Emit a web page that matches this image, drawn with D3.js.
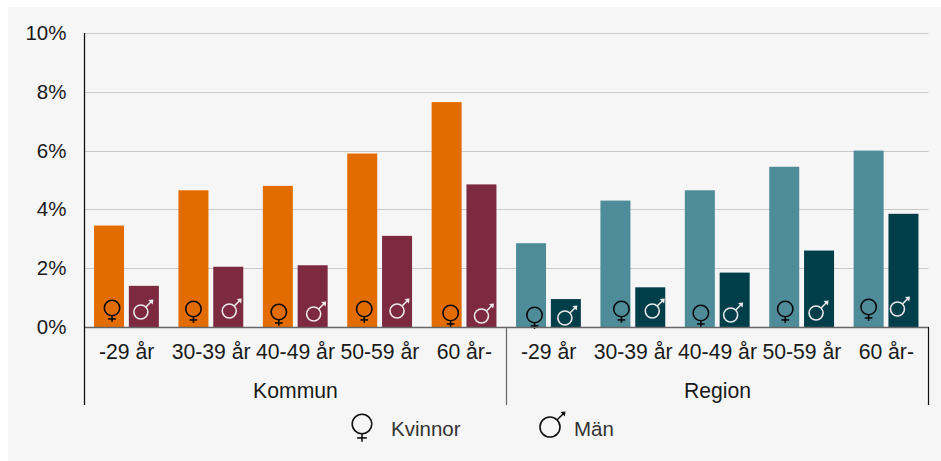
<!DOCTYPE html>
<html>
<head>
<meta charset="utf-8">
<script src="https://cdn.jsdelivr.net/npm/d3@7"></script>
<style>
  html, body { margin: 0; padding: 0; background: #fff; }
  svg { display: block; }
  text { font-family: "Liberation Sans", Arial, sans-serif; fill: #1a1a1a; }
</style>
</head>
<body>
<div id="chart"></div>
<script>
//chart values
const sectors = ['Kommun', 'Region'];
const ageGroups = ['-29 år', '30-39 år', '40-49 år', '50-59 år', '60 år-'];
const kvinnor = [3.45, 4.65, 4.8, 5.9, 7.65, 2.85, 4.3, 4.65, 5.45, 6.0];
const man = [1.4, 2.05, 2.1, 3.1, 4.85, 0.95, 1.35, 1.85, 2.6, 3.85];
const yTicks = [0, 2, 4, 6, 8, 10];

//gender symbols were placed by hand in the original, so each one has its own nudge
const kvinnorSymbolLift = [19, 18, 15, 18, 14, 12, 18, 14, 18, 20];
const manSymbolLift = [15, 16, 13, 16, 11, 9, 16, 12, 14, 18];
const kvinnorSymbolShift = [3, 0, 1, 2, 4, 3.5, 6, 1, 1, 0];
const manSymbolShift = [-3, 1, 1, 0, 0, -1, 2, -4, -3, -6];

const width = 941, height = 461;
const margin = { top: 33, left: 84.5, right: 12.5, bottom: 134 };
const plotBottom = height - margin.bottom;
const plotRight = width - margin.right;
const labelSize = '20.5px';
const categorySize = '21.2px';

const svg = d3.select('#chart').append('svg')
  .attr('width', width)
  .attr('height', height);

//grey panel behind the chart
svg.append('rect')
  .attr('x', 8).attr('y', 7)
  .attr('width', width - 8).attr('height', height - 7)
  .attr('fill', '#f6f6f6');

//scales
const groupIndex = d3.range(kvinnor.length);
const x = d3.scaleBand().domain(groupIndex).range([margin.left, plotRight]);
const barScale = d3.scaleBand()
  .domain(['kvinnor', 'man'])
  .range([x.bandwidth() * 0.113, x.bandwidth() * 0.881])
  .paddingInner(0.138);
const y = d3.scaleLinear().domain([0, 10]).range([plotBottom, margin.top]);

//gridlines and y axis
const yAxis = svg.append('g')
  .attr('transform', `translate(${margin.left},0)`)
  .call(d3.axisLeft(y).tickValues(yTicks).tickFormat(d => d + '%').tickSize(0).tickPadding(18));
yAxis.select('.domain').remove();
yAxis.selectAll('text').style('font-size', labelSize);

svg.append('g').selectAll('line')
  .data(yTicks.slice(1))
  .join('line')
  .attr('x1', margin.left).attr('x2', plotRight)
  .attr('y1', d => Math.round(y(d)) + 0.5).attr('y2', d => Math.round(y(d)) + 0.5)
  .attr('stroke', '#c9c9c9');

//bars, the colors change between the two sectors
const kvinnorColor = i => i < ageGroups.length ? '#e36c00' : '#4e8c99';
const manColor = i => i < ageGroups.length ? '#7d2a41' : '#003e4a';

svg.append('g').selectAll('rect')
  .data(kvinnor)
  .join('rect')
  .attr('x', (d, i) => x(i) + barScale('kvinnor'))
  .attr('y', d => y(d))
  .attr('width', barScale.bandwidth())
  .attr('height', d => plotBottom - y(d))
  .attr('fill', (d, i) => kvinnorColor(i));

svg.append('g').selectAll('rect')
  .data(man)
  .join('rect')
  .attr('x', (d, i) => x(i) + barScale('man'))
  .attr('y', d => y(d))
  .attr('width', barScale.bandwidth())
  .attr('height', d => plotBottom - y(d))
  .attr('fill', (d, i) => manColor(i));

//gender symbols
function drawFemale(parent, cx, cy, r, color) {
  const g = parent.append('g')
    .attr('transform', `translate(${cx},${cy})`)
    .attr('fill', 'none').attr('stroke', color).attr('stroke-width', 1.6);
  g.append('circle').attr('r', r);
  g.append('line').attr('y1', r).attr('y2', r * 1.8);
  g.append('line').attr('x1', -r * 0.5).attr('x2', r * 0.5).attr('y1', r * 1.42).attr('y2', r * 1.42);
}

function drawMale(parent, cx, cy, r, color) {
  const g = parent.append('g')
    .attr('transform', `translate(${cx},${cy})`)
    .attr('fill', 'none').attr('stroke', color).attr('stroke-width', 1.6);
  g.append('circle').attr('r', r);
  const start = r * 0.72, tip = 5.5 + r;
  const head = 5;
  g.append('line').attr('x1', start).attr('y1', -start).attr('x2', tip - 1).attr('y2', -tip + 1);
  g.append('path')
    .attr('d', d3.line()([[tip, -tip], [tip - head, -tip + 0.6], [tip - 0.6, -tip + head]]))
    .attr('fill', color).attr('stroke', 'none');
}

const symbols = svg.append('g');
kvinnor.forEach((d, i) => {
  const cx = x(i) + barScale('kvinnor') + barScale.bandwidth() / 2 + kvinnorSymbolShift[i];
  drawFemale(symbols, cx, plotBottom - kvinnorSymbolLift[i], 7.7, '#0a0a0a');
});
man.forEach((d, i) => {
  const cx = x(i) + barScale('man') + barScale.bandwidth() / 2 + manSymbolShift[i];
  drawMale(symbols, cx, plotBottom - manSymbolLift[i], 7, '#ece9ea');
});

//baseline and the age labels
const xAxis = svg.append('g')
  .attr('transform', `translate(0,${plotBottom})`)
  .call(d3.axisBottom(x)
    .tickFormat(i => ageGroups[i % ageGroups.length])
    .tickSize(0).tickPadding(17));
xAxis.select('.domain').attr('stroke', '#666').attr('stroke-width', 1.5);
xAxis.selectAll('text').style('font-size', categorySize);

//left axis line
svg.append('line')
  .attr('x1', margin.left).attr('x2', margin.left)
  .attr('y1', margin.top).attr('y2', 405)
  .attr('stroke', '#111').attr('stroke-width', 1.3);

//separators of the sector level
const sectorStart = x(ageGroups.length);
svg.append('line')
  .attr('x1', sectorStart).attr('x2', sectorStart)
  .attr('y1', plotBottom).attr('y2', 405)
  .attr('stroke', '#666').attr('stroke-width', 1.2);
svg.append('line')
  .attr('x1', plotRight).attr('x2', plotRight)
  .attr('y1', plotBottom).attr('y2', 405)
  .attr('stroke', '#111').attr('stroke-width', 1.2);

//sector labels
svg.append('g').selectAll('text')
  .data(sectors)
  .join('text')
  .attr('x', (d, i) => i == 0 ? (x(0) + sectorStart) / 2 : (sectorStart + plotRight) / 2)
  .attr('y', 398)
  .attr('text-anchor', 'middle')
  .style('font-size', categorySize)
  .text(d => d);

//legend
const legend = svg.append('g');
drawFemale(legend, 362, 424, 9.8, '#111');
drawMale(legend, 550, 427, 10, '#111');
legend.append('text').attr('x', 391).attr('y', 436).style('font-size', labelSize).style('fill', '#333').text('Kvinnor');
legend.append('text').attr('x', 574).attr('y', 436).style('font-size', labelSize).style('fill', '#333').text('Män');
</script>
</body>
</html>
